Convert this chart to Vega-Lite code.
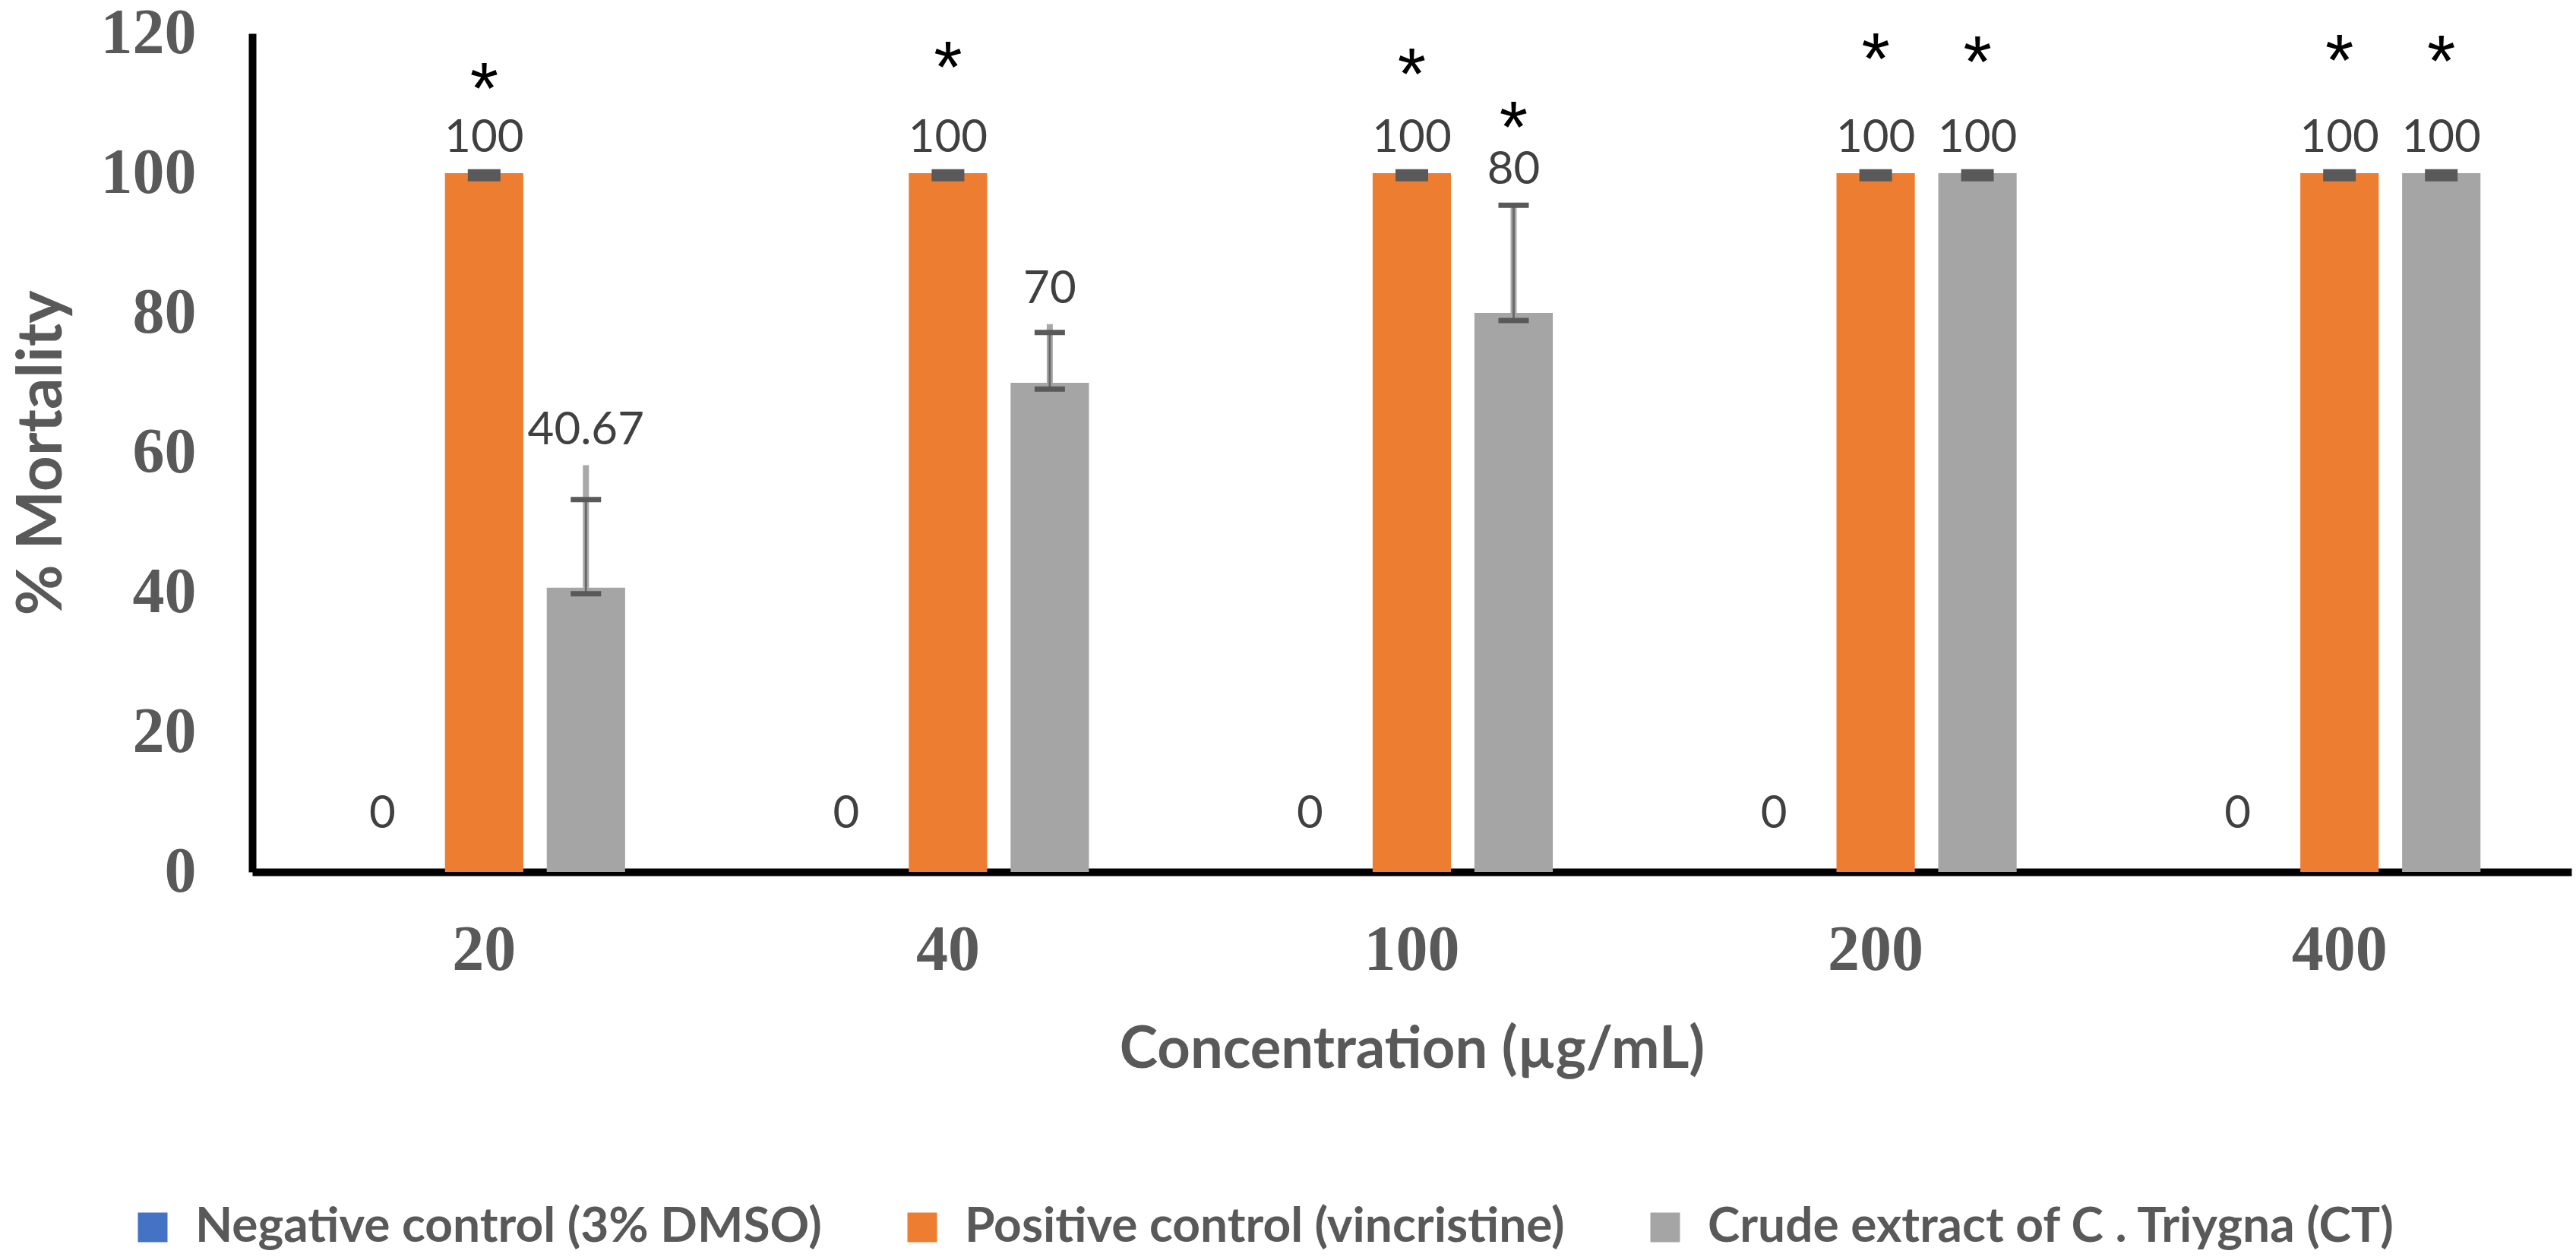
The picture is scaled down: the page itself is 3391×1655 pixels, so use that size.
{
  "$schema": "https://vega.github.io/schema/vega-lite/v6.json",
  "width": 3053,
  "height": 1104,
  "autosize": {"type": "none"},
  "padding": {"left": 332, "top": 44, "right": 6, "bottom": 507},
  "background": "white",
  "config": {
    "view": {"stroke": null},
    "axis": {"grid": false, "ticks": false, "domainColor": "#000000", "domainWidth": 10, "labelColor": "#595959", "titleColor": "#595959"},
    "axisX": {"labelFont": "Liberation Serif", "labelFontWeight": "bold", "labelFontSize": 84, "labelPadding": 62, "labelAngle": 0,
      "titleFont": "Lato", "titleFontWeight": "bold", "titleFontSize": 76, "titleBaseline": "alphabetic", "titleY": 257},
    "axisY": {"labelFont": "Liberation Serif", "labelFontWeight": "bold", "labelFontSize": 84, "labelPadding": 74,
      "titleFont": "Lato", "titleFontWeight": "bold", "titleFontSize": 82, "titleBaseline": "alphabetic", "titleX": -252, "titleAngle": -90},
    "legend": {"orient": "none", "legendX": -163, "legendY": 1540, "direction": "horizontal", "columns": 3, "columnPadding": 100,
      "symbolType": "square", "symbolSize": 1521, "symbolStrokeWidth": 0, "labelFont": "Lato", "labelFontWeight": "bold",
      "labelFontSize": 64, "labelColor": "#595959", "labelOffset": 24, "labelLimit": 0, "title": null}
  },
  "datasets": {
    "bars": [
      {"conc": "20", "group": "Negative control (3% DMSO)", "value": 0},
      {"conc": "20", "group": "Positive control (vincristine)", "value": 100, "top": 100},
      {"conc": "20", "group": "Crude extract of C . Triygna (CT)", "value": 40.67, "top": 58.2, "lo": 39.8, "hi": 53.3},
      {"conc": "40", "group": "Negative control (3% DMSO)", "value": 0},
      {"conc": "40", "group": "Positive control (vincristine)", "value": 100, "top": 100},
      {"conc": "40", "group": "Crude extract of C . Triygna (CT)", "value": 70, "top": 78.4, "lo": 69.1, "hi": 77.2},
      {"conc": "100", "group": "Negative control (3% DMSO)", "value": 0},
      {"conc": "100", "group": "Positive control (vincristine)", "value": 100, "top": 100},
      {"conc": "100", "group": "Crude extract of C . Triygna (CT)", "value": 80, "top": 95.4, "lo": 78.9, "hi": 95.4},
      {"conc": "200", "group": "Negative control (3% DMSO)", "value": 0},
      {"conc": "200", "group": "Positive control (vincristine)", "value": 100, "top": 100},
      {"conc": "200", "group": "Crude extract of C . Triygna (CT)", "value": 100, "top": 100},
      {"conc": "400", "group": "Negative control (3% DMSO)", "value": 0},
      {"conc": "400", "group": "Positive control (vincristine)", "value": 100, "top": 100},
      {"conc": "400", "group": "Crude extract of C . Triygna (CT)", "value": 100, "top": 100}
    ],
    "caps": [
      {"conc": "20", "group": "Positive control (vincristine)", "y": 99.7, "kind": "full"},
      {"conc": "40", "group": "Positive control (vincristine)", "y": 99.7, "kind": "full"},
      {"conc": "100", "group": "Positive control (vincristine)", "y": 99.7, "kind": "full"},
      {"conc": "200", "group": "Positive control (vincristine)", "y": 99.7, "kind": "full"},
      {"conc": "400", "group": "Positive control (vincristine)", "y": 99.7, "kind": "full"},
      {"conc": "200", "group": "Crude extract of C . Triygna (CT)", "y": 99.7, "kind": "full"},
      {"conc": "400", "group": "Crude extract of C . Triygna (CT)", "y": 99.7, "kind": "full"},
      {"conc": "20", "group": "Crude extract of C . Triygna (CT)", "y": 39.8, "kind": "sd"},
      {"conc": "20", "group": "Crude extract of C . Triygna (CT)", "y": 53.3, "kind": "sd"},
      {"conc": "40", "group": "Crude extract of C . Triygna (CT)", "y": 69.1, "kind": "sd"},
      {"conc": "40", "group": "Crude extract of C . Triygna (CT)", "y": 77.2, "kind": "sd"},
      {"conc": "100", "group": "Crude extract of C . Triygna (CT)", "y": 78.9, "kind": "sd"},
      {"conc": "100", "group": "Crude extract of C . Triygna (CT)", "y": 95.4, "kind": "sd"}
    ],
    "stars": [
      {"conc": "20", "group": "Positive control (vincristine)", "y": 114.1},
      {"conc": "40", "group": "Positive control (vincristine)", "y": 117.2},
      {"conc": "100", "group": "Positive control (vincristine)", "y": 116.2},
      {"conc": "100", "group": "Crude extract of C . Triygna (CT)", "y": 108.6},
      {"conc": "200", "group": "Positive control (vincristine)", "y": 118.4},
      {"conc": "200", "group": "Crude extract of C . Triygna (CT)", "y": 117.9},
      {"conc": "400", "group": "Positive control (vincristine)", "y": 118.2},
      {"conc": "400", "group": "Crude extract of C . Triygna (CT)", "y": 118.0}
    ]
  },
  "encoding": {
    "x": {"field": "conc", "type": "nominal", "sort": ["20", "40", "100", "200", "400"],
      "scale": {"paddingInner": 0.3, "paddingOuter": 0.15},
      "axis": {"title": "Concentration (µg/mL)"}},
    "xOffset": {"field": "group", "type": "nominal",
      "sort": ["Negative control (3% DMSO)", "Positive control (vincristine)", "Crude extract of C . Triygna (CT)"],
      "scale": {"paddingInner": 0.23, "paddingOuter": 0.21}}
  },
  "layer": [
    {
      "data": {"name": "bars"},
      "mark": {"type": "bar"},
      "encoding": {
        "y": {"field": "value", "type": "quantitative", "scale": {"domain": [0, 120]}, "axis": {"title": "% Mortality", "values": [0, 20, 40, 60, 80, 100, 120]}},
        "color": {"field": "group", "type": "nominal",
          "scale": {"domain": ["Negative control (3% DMSO)", "Positive control (vincristine)", "Crude extract of C . Triygna (CT)"], "range": ["#4472C4", "#ED7D31", "#A5A5A5"]},
          "legend": {}}
      }
    },
    {
      "data": {"name": "bars"},
      "transform": [{"filter": "isValid(datum.lo)"}],
      "mark": {"type": "rule", "color": "#A8A8A8", "strokeWidth": 8},
      "encoding": {
        "y": {"field": "value", "type": "quantitative", "axis": {"title": "% Mortality"}},
        "y2": {"field": "top"}
      }
    },
    {
      "data": {"name": "bars"},
      "transform": [{"filter": "isValid(datum.lo)"}],
      "mark": {"type": "rule", "color": "#6a6a6a", "strokeWidth": 3},
      "encoding": {
        "y": {"field": "lo", "type": "quantitative", "axis": {"title": "% Mortality"}},
        "y2": {"field": "hi"}
      }
    },
    {
      "data": {"name": "caps"},
      "transform": [{"filter": "datum.kind == 'sd'"}],
      "mark": {"type": "tick", "color": "#595959", "thickness": 7, "size": 40, "opacity": 1},
      "encoding": {
        "y": {"field": "y", "type": "quantitative", "axis": {"title": "% Mortality"}}
      }
    },
    {
      "data": {"name": "caps"},
      "transform": [{"filter": "datum.kind == 'full'"}],
      "mark": {"type": "tick", "color": "#595959", "thickness": 16, "size": 43, "opacity": 1},
      "encoding": {
        "y": {"field": "y", "type": "quantitative", "axis": {"title": "% Mortality"}}
      }
    },
    {
      "data": {"name": "bars"},
      "transform": [{"filter": "datum.group != 'Negative control (3% DMSO)'"}],
      "mark": {"type": "text", "font": "Lato", "fontSize": 60, "color": "#404040", "baseline": "alphabetic", "dy": -28},
      "encoding": {
        "y": {"field": "top", "type": "quantitative", "axis": {"title": "% Mortality"}},
        "text": {"field": "value", "type": "nominal"}
      }
    },
    {
      "data": {"name": "bars"},
      "transform": [{"filter": "datum.group == 'Negative control (3% DMSO)'"}],
      "mark": {"type": "text", "font": "Lato", "fontSize": 60, "color": "#404040", "baseline": "alphabetic", "dy": -58},
      "encoding": {
        "y": {"field": "value", "type": "quantitative", "axis": {"title": "% Mortality"}},
        "text": {"field": "value", "type": "nominal"}
      }
    },
    {
      "data": {"name": "stars"},
      "mark": {"type": "text", "font": "Liberation Sans", "fontSize": 96, "color": "#000000", "baseline": "alphabetic", "dy": 51},
      "encoding": {
        "y": {"field": "y", "type": "quantitative", "axis": {"title": "% Mortality"}},
        "text": {"value": "*"}
      }
    }
  ]
}
